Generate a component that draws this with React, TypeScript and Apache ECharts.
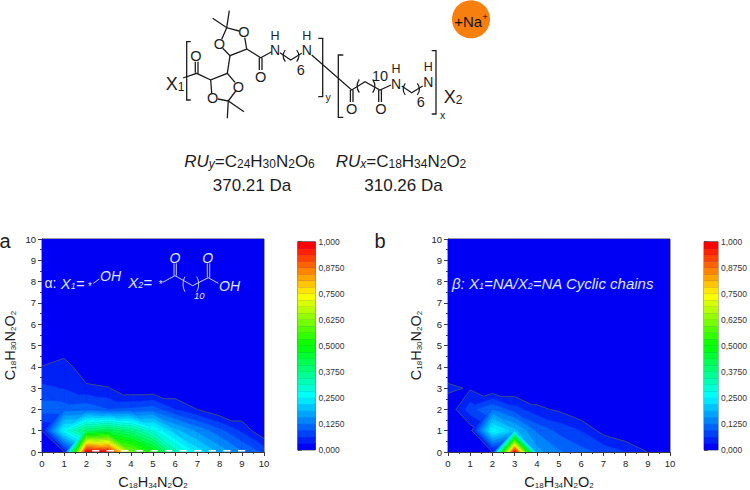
import React, { useEffect, useRef } from "react";
import * as echarts from "echarts";

// rows run from y = 0 (first) to y = 10, columns from x = 0 to x = 10
const alphaValues: number[][] = [
  [0, 0.031, 1.0, 0.97, 0.62, 0.5, 0.33, 0.24, 0.18, 0.13, 0.085],
  [0.031, 0.27, 0.4, 0.43, 0.38, 0.29, 0.2, 0.15, 0.104, 0.057, 0],
  [0.11, 0.11, 0.115, 0.095, 0.1, 0.11, 0.063, 0.031, 0, 0, 0],
  [0.07, 0.06, 0.04, 0.033, 0, 0, 0, 0, 0, 0, 0],
  [0.033, 0.052, 0, 0, 0, 0, 0, 0, 0, 0, 0],
  [0, 0, 0, 0, 0, 0, 0, 0, 0, 0, 0],
  [0, 0, 0, 0, 0, 0, 0, 0, 0, 0, 0],
  [0, 0, 0, 0, 0, 0, 0, 0, 0, 0, 0],
  [0, 0, 0, 0, 0, 0, 0, 0, 0, 0, 0],
  [0, 0, 0, 0, 0, 0, 0, 0, 0, 0, 0],
  [0, 0, 0, 0, 0, 0, 0, 0, 0, 0, 0],
];
const betaValues: number[][] = [
  [0, 0, 0.031, 1.0, 0.17, 0.13, 0.105, 0.085, 0.062, 0.031, 0],
  [0, 0.012, 0.27, 0.2, 0.12, 0.085, 0.062, 0.018, 0, 0, 0],
  [0.004, 0.08, 0.124, 0.078, 0.04, 0.025, 0, 0, 0, 0, 0],
  [0.04, 0.027, 0, 0, 0, 0, 0, 0, 0, 0, 0],
  [0, 0, 0, 0, 0, 0, 0, 0, 0, 0, 0],
  [0, 0, 0, 0, 0, 0, 0, 0, 0, 0, 0],
  [0, 0, 0, 0, 0, 0, 0, 0, 0, 0, 0],
  [0, 0, 0, 0, 0, 0, 0, 0, 0, 0, 0],
  [0, 0, 0, 0, 0, 0, 0, 0, 0, 0, 0],
  [0, 0, 0, 0, 0, 0, 0, 0, 0, 0, 0],
  [0, 0, 0, 0, 0, 0, 0, 0, 0, 0, 0],
];
const gridTicks = [0, 1, 2, 3, 4, 5, 6, 7, 8, 9, 10];
const colorbarLabels = ["0,000", "0,1250", "0,2500", "0,3750", "0,5000", "0,6250", "0,7500", "0,8750", "1,000"];
const bandCount = 32;
const outlineLevel = 1 / bandCount;
const dashedRun = [[2.25, 0.06], [9.25, 0.06]];

const FONT = "Liberation Sans";
const INK = "#1c1c1c";
const PALE = "#dfe6ff";

function colorAt(t: number) {
  const stops = [
    [0, 0, 245],
    [0, 255, 255],
    [0, 255, 0],
    [255, 255, 0],
    [255, 0, 0],
  ];
  const p = Math.min(3.9999, t * 4);
  const i = Math.floor(p);
  const f = p - i;
  const c = stops[i].map((a, j) => Math.round(a + (stops[i + 1][j] - a) * f));
  return `rgb(${c[0]},${c[1]},${c[2]})`;
}

type V = [number, number, number];

function trianglesOf(values: number[][], x: number, y: number): V[][] {
  const a: V = [x, y, values[y][x]];
  const b: V = [x + 1, y, values[y][x + 1]];
  const c: V = [x + 1, y + 1, values[y + 1][x + 1]];
  const d: V = [x, y + 1, values[y + 1][x]];
  const top = Math.max(a[2], b[2], c[2], d[2]);
  // the diagonal stays away from the highest corner of the cell
  if (a[2] === top || c[2] === top) return [[a, b, d], [b, c, d]];
  return [[a, b, c], [a, c, d]];
}

function clipAbove(poly: V[], level: number, keepAbove: boolean): V[] {
  const out: V[] = [];
  const inside = (v: V) => (keepAbove ? v[2] >= level : v[2] <= level);
  poly.forEach((p, i) => {
    const q = poly[(i + 1) % poly.length];
    if (inside(p)) out.push(p);
    if (inside(p) !== inside(q)) {
      const f = (level - p[2]) / (q[2] - p[2]);
      out.push([p[0] + (q[0] - p[0]) * f, p[1] + (q[1] - p[1]) * f, level]);
    }
  });
  return out;
}

function bandsItem(values: number[][]) {
  return (_: any, api: any) => {
    const x = api.value(0);
    const y = api.value(1);
    const children: any[] = [];
    trianglesOf(values, x, y).forEach((tri) => {
      const lo = Math.min(...tri.map((v) => v[2]));
      const hi = Math.max(...tri.map((v) => v[2]));
      const first = Math.min(bandCount - 1, Math.floor(lo * bandCount));
      const last = Math.min(bandCount - 1, Math.floor(hi * bandCount));
      for (let k = first; k <= last; k++) {
        let poly: V[] = tri;
        if (k > 0) poly = clipAbove(poly, k / bandCount, true);
        if (k < bandCount - 1 && poly.length) poly = clipAbove(poly, (k + 1) / bandCount, false);
        if (poly.length < 3) continue;
        const fill = colorAt(k / (bandCount - 1));
        children.push({
          type: "polygon",
          shape: { points: poly.map((v) => api.coord([v[0], v[1]])) },
          style: { fill, stroke: fill, lineWidth: 0.5 },
        });
      }
    });
    return { type: "group", children };
  };
}

function outlineItem(values: number[][]) {
  return (_: any, api: any) => {
    const x = api.value(0);
    const y = api.value(1);
    const children: any[] = [];
    trianglesOf(values, x, y).forEach((tri) => {
      const pts: number[][] = [];
      tri.forEach((p, i) => {
        const q = tri[(i + 1) % 3];
        if (p[2] >= outlineLevel !== q[2] >= outlineLevel) {
          const f = (outlineLevel - p[2]) / (q[2] - p[2]);
          pts.push(api.coord([p[0] + (q[0] - p[0]) * f, p[1] + (q[1] - p[1]) * f]));
        }
      });
      if (pts.length === 2) {
        children.push({
          type: "line",
          shape: { x1: pts[0][0], y1: pts[0][1], x2: pts[1][0], y2: pts[1][1] },
          style: { stroke: "#3c4a86", lineWidth: 1 },
        });
      }
    });
    return { type: "group", children };
  };
}

function barItem(_: any, api: any) {
  const k = api.value(0);
  const p0 = api.coord([0, k / bandCount]);
  const p1 = api.coord([1, (k + 1) / bandCount]);
  const fill = colorAt(k / (bandCount - 1));
  return {
    type: "rect",
    shape: { x: p0[0], y: p1[1], width: p1[0] - p0[0], height: p0[1] - p1[1] },
    style: { fill, stroke: fill, lineWidth: 0.4 },
  };
}

const axisRich = {
  n: { fontSize: 14.5, fontFamily: FONT, color: INK, lineHeight: 17, verticalAlign: "bottom" },
  s: { fontSize: 8, fontFamily: FONT, color: INK, lineHeight: 7, verticalAlign: "bottom" },
};
const NAME_X = "{n|C}{s|18}{n|H}{s|34}{n|N}{s|2}{n|O}{s|2}";
const NAME_Y = "{n|C}{s|18}{n|H}{s|30}{n|N}{s|2}{n|O}{s|2}";

function plotAxis(gridIndex: number, name: string, isY: boolean) {
  return {
    type: "value",
    gridIndex,
    min: 0,
    max: 10,
    interval: 1,
    name,
    nameLocation: "middle",
    nameGap: isY ? 25 : 20,
    nameRotate: isY ? 90 : 0,
    nameTextStyle: { rich: axisRich },
    axisLine: { show: true, onZero: false, lineStyle: { color: "#3a3a3a", width: 1 } },
    axisTick: { show: true, length: 4, lineStyle: { color: "#3a3a3a", width: 1 } },
    minorTick: { show: true, splitNumber: 2, length: 2, lineStyle: { color: "#3a3a3a", width: 1 } },
    axisLabel: { fontSize: 9.5, fontFamily: FONT, color: "#222", margin: 6, formatter: (v: number) => String(gridTicks[v]) },
    splitLine: { show: false },
  };
}

function barGridAxes(gridIndex: number) {
  return {
    x: { type: "value", gridIndex, min: 0, max: 1, show: false },
    y: {
      type: "value",
      gridIndex,
      min: 0,
      max: 1,
      interval: 0.125,
      position: "right",
      axisLine: { show: false },
      axisTick: { show: true, length: 4, lineStyle: { color: "#555", width: 1 } },
      axisLabel: {
        fontSize: 8.5,
        fontFamily: FONT,
        color: "#333",
        margin: 3,
        formatter: (v: number) => colorbarLabels[Math.round(v * 8)],
      },
      splitLine: { show: false },
    },
  };
}

// decoration: the structure formula above the plots
const inkBonds: number[][][] = [
  [[190.7, 41.7], [186.7, 41.7], [186.7, 100], [190.7, 100]],
  [[318.3, 38.3], [322.7, 38.3], [322.7, 96.7], [318.3, 96.7]],
  [[343.3, 55], [338.3, 55], [338.3, 117.3], [343.3, 117.3]],
  [[431.7, 50.7], [436, 50.7], [436, 114], [431.7, 114]],
  [[183, 78], [196.7, 73.3], [210.7, 80]],
  [[195.3, 72.7], [195.3, 61.7]],
  [[198, 73.3], [198, 61.7]],
  [[211.7, 93.3], [210.7, 80], [227.3, 73.3], [235, 82.3]],
  [[235.7, 91], [228.3, 101], [217.7, 99]],
  [[244, 111.7], [228.3, 101], [227.3, 118.3]],
  [[227.3, 73.3], [230, 55.7]],
  [[222.7, 48.3], [230, 55.7], [246.7, 49], [244.7, 37.7]],
  [[221.7, 39.3], [226.7, 27.7], [239, 31]],
  [[212.7, 18.3], [226.7, 27.7], [229.3, 10.7]],
  [[246.7, 49], [260.7, 57.7], [271.7, 51.7]],
  [[259.3, 57.7], [259.3, 70]],
  [[262, 57.7], [262, 70]],
  [[280, 52.7], [290.7, 60], [301.7, 53.3]],
  [[311.7, 55], [351.7, 90], [365, 81.7], [380, 90], [391, 85]],
  [[350.4, 90], [350.4, 102]],
  [[353, 90], [353, 102]],
  [[378.7, 90], [378.7, 102]],
  [[381.4, 90], [381.4, 102]],
  [[401.7, 86], [411.7, 92.7], [422.7, 86]],
];
const paleBonds: number[][][] = [
  [[93.3, 283.3], [99.3, 279]],
  [[162.7, 282.3], [175, 275.7], [192.7, 285.7], [208.3, 277.7], [218.3, 283.3]],
  [[174, 275.7], [174, 263.3]],
  [[176.3, 275.7], [176.3, 263.3]],
  [[207.3, 277.7], [207.3, 263.3]],
  [[209.7, 277.7], [209.7, 263.3]],
];
const parens: [number, number, number, number, string][] = [
  [285.3, 50, 61.7, -2.6, INK],
  [296.7, 50, 61.7, 2.6, INK],
  [359.3, 79.3, 92.7, -2.6, INK],
  [372.7, 79.3, 92.7, 2.6, INK],
  [405.3, 83.3, 95, -2.6, INK],
  [417.3, 83.3, 95, 2.6, INK],
  [185, 276.7, 291.7, -2.6, PALE],
  [196.7, 276.7, 291.7, 2.6, PALE],
];
const atomLabels: [string, number, number][] = [
  ["O", 196, 55.7], ["O", 238.3, 86.7], ["O", 212.7, 98.3], ["O", 219.3, 44.3], ["O", 244, 32.3], ["O", 260.7, 76.5],
  ["6", 300.7, 70], ["O", 351.7, 109], ["O", 381, 109], ["10", 380, 76], ["6", 420.7, 101.7],
];
const amineLabels: [number, number][] = [
  [275, 42.7],
  [306.7, 42.7],
  [396, 76],
  [428.3, 74],
];
const chemRich = {
  n: { fontSize: 17, fontFamily: FONT, fill: INK, lineHeight: 19, verticalAlign: "bottom" },
  i: { fontSize: 17, fontFamily: FONT, fontStyle: "italic", fill: INK, lineHeight: 19, verticalAlign: "bottom" },
  s: { fontSize: 12, fontFamily: FONT, fill: INK, lineHeight: 10, verticalAlign: "bottom" },
  is: { fontSize: 12, fontFamily: FONT, fontStyle: "italic", fill: INK, lineHeight: 10, verticalAlign: "bottom" },
  u: { fontSize: 9.5, fontFamily: FONT, fill: "#111", lineHeight: 9, verticalAlign: "top" },
  m: { fontSize: 15, fontFamily: FONT, fill: "#111", lineHeight: 18, verticalAlign: "bottom" },
  x: { fontSize: 18, fontFamily: FONT, fill: INK, lineHeight: 19, verticalAlign: "bottom" },
};
const paleRich = {
  i: { fontSize: 15, fontFamily: FONT, fontStyle: "italic", fill: PALE, lineHeight: 17, verticalAlign: "bottom" },
  s: { fontSize: 9, fontFamily: FONT, fontStyle: "italic", fill: PALE, lineHeight: 7, verticalAlign: "bottom" },
};

function richText(x: number, y: number, text: string, rich: any, align = "center") {
  return {
    type: "text",
    z: 50,
    silent: true,
    style: { x, y, text, rich, align, verticalAlign: "middle", fontFamily: FONT },
  };
}
function plainText(x: number, y: number, text: string, size: number, fill: string, italic = false, align = "center") {
  return {
    type: "text",
    z: 50,
    silent: true,
    style: {
      x,
      y,
      text,
      fill,
      align,
      verticalAlign: "middle",
      fontFamily: FONT,
      fontSize: size,
      fontStyle: italic ? "italic" : "normal",
    },
  };
}

function decorations() {
  const out: any[] = [];
  out.push({ type: "circle", z: 40, shape: { cx: 471, cy: 19.3, r: 19 }, style: { fill: "#f77f0f" } });
  inkBonds.forEach((points) =>
    out.push({ type: "polyline", z: 45, shape: { points }, style: { stroke: INK, lineWidth: 1.3, fill: "none" } })
  );
  paleBonds.forEach((points) =>
    out.push({ type: "polyline", z: 45, shape: { points }, style: { stroke: PALE, lineWidth: 0.9, fill: "none" } })
  );
  parens.forEach(([x, y0, y1, bow, color]) =>
    out.push({
      type: "bezierCurve",
      z: 45,
      shape: { x1: x, y1: y0, x2: x, y2: y1, cpx1: x + bow, cpy1: y0 + (y1 - y0) * 0.3, cpx2: x + bow, cpy2: y0 + (y1 - y0) * 0.7 },
      style: { stroke: color, lineWidth: color === INK ? 1.2 : 0.9, fill: "none" },
    })
  );
  atomLabels.forEach(([t, x, y]) => out.push(plainText(x, y, t, 14.5, INK)));
  amineLabels.forEach(([x, y]) => {
    out.push(plainText(x, y - 6.9, "H", 12.5, INK));
    out.push(plainText(x, y + 7.6, "N", 14, INK));
  });
  out.push(richText(175, 83, "{x|X}{s|1}", chemRich));
  out.push(richText(453, 96, "{x|X}{s|2}", chemRich));
  out.push(plainText(328, 96.7, "y", 10.5, INK));
  out.push(plainText(442.7, 114.5, "x", 10.5, INK));
  out.push(richText(471, 20, "{m|+Na}{u|+}", chemRich));
  out.push(richText(249.5, 160, "{i|RU}{is|y}{n|=C}{s|24}{n|H}{s|30}{n|N}{s|2}{n|O}{s|6}", chemRich));
  out.push(richText(401, 160, "{i|RU}{is|x}{n|=C}{s|18}{n|H}{s|34}{n|N}{s|2}{n|O}{s|2}", chemRich));
  out.push(plainText(252, 185, "370.21 Da", 17, INK));
  out.push(plainText(403.5, 185, "310.26 Da", 17, INK));
  out.push(plainText(5, 241, "a", 20, INK));
  out.push(plainText(380, 241, "b", 20, INK));
  // annotation of plot a
  out.push(plainText(44.5, 283, "α:", 14, PALE, false, "left"));
  out.push(richText(60.7, 282, "{i|X}{s|1}{i|=}", paleRich, "left"));
  out.push(plainText(90, 286, "*", 10, PALE));
  out.push(plainText(100, 276, "OH", 14, PALE, true, "left"));
  out.push(richText(128.3, 281, "{i|X}{s|2}{i|=}", paleRich, "left"));
  out.push(plainText(160.7, 284, "*", 10, PALE));
  out.push(plainText(175, 257.7, "O", 14, PALE, true));
  out.push(plainText(207.7, 257.7, "O", 14, PALE, true));
  out.push(plainText(199.3, 295.7, "10", 9.5, PALE, true));
  out.push(plainText(219, 286, "OH", 14, PALE, true, "left"));
  // annotation of plot b
  out.push(richText(452, 282, "{i|β: X}{s|1}{i|=NA/X}{s|2}{i|=NA Cyclic chains}", paleRich, "left"));
  return out;
}

const cellIndex = gridTicks.slice(0, 10);
const cells = cellIndex.flatMap((y) => cellIndex.map((x) => [x, y]));
const bands = Array.from({ length: bandCount }, (_, k) => [k]);

const plotGrid = (left: number) => ({
  show: true,
  left,
  width: 222,
  top: 239,
  height: 213.3,
  backgroundColor: colorAt(0),
  borderColor: "#3a3a3a",
  borderWidth: 1,
});
const barGrid = (left: number) => ({
  show: true,
  left,
  width: 17.6,
  top: 241.7,
  height: 208.3,
  backgroundColor: colorAt(0),
  borderColor: "#5f6f5f",
  borderWidth: 1,
});

export default function App() {
  const ref = useRef<HTMLDivElement>(null);
  useEffect(() => {
    document.body.style.margin = "0";
    const chart = echarts.init(ref.current!, null, { renderer: "svg" });
    const barA = barGridAxes(1);
    const barB = barGridAxes(3);
    const series: any[] = [];
    [
      { values: alphaValues, g: 0 },
      { values: betaValues, g: 2 },
    ].forEach(({ values, g }) => {
      series.push({
        type: "custom",
        xAxisIndex: g,
        yAxisIndex: g,
        coordinateSystem: "cartesian2d",
        clip: true,
        silent: true,
        z: 2,
        data: cells,
        encode: { x: 0, y: 1 },
        renderItem: bandsItem(values),
      });
      series.push({
        type: "custom",
        xAxisIndex: g,
        yAxisIndex: g,
        coordinateSystem: "cartesian2d",
        clip: true,
        silent: true,
        z: 3,
        data: cells,
        encode: { x: 0, y: 1 },
        renderItem: outlineItem(values),
      });
      series.push({
        type: "custom",
        xAxisIndex: g + 1,
        yAxisIndex: g + 1,
        coordinateSystem: "cartesian2d",
        clip: true,
        silent: true,
        z: 2,
        data: bands,
        encode: { y: 0 },
        renderItem: barItem,
      });
    });
    series.push({
      type: "line",
      xAxisIndex: 0,
      yAxisIndex: 0,
      z: 4,
      symbol: "none",
      silent: true,
      data: dashedRun,
      lineStyle: { color: "#f4f6ff", width: 1.6, type: [7.3, 7.3] },
    });
    chart.setOption({
      animation: false,
      backgroundColor: "#ffffff",
      grid: [plotGrid(42), barGrid(297.8), plotGrid(448), barGrid(704)],
      xAxis: [plotAxis(0, NAME_X, false), barA.x, plotAxis(2, NAME_X, false), barB.x],
      yAxis: [plotAxis(0, NAME_Y, true), barA.y, plotAxis(2, NAME_Y, true), barB.y],
      series,
      graphic: decorations(),
    });
    return () => chart.dispose();
  }, []);
  return <div ref={ref} style={{ position: "absolute", left: 0, top: 0, width: 750, height: 490 }} />;
}
